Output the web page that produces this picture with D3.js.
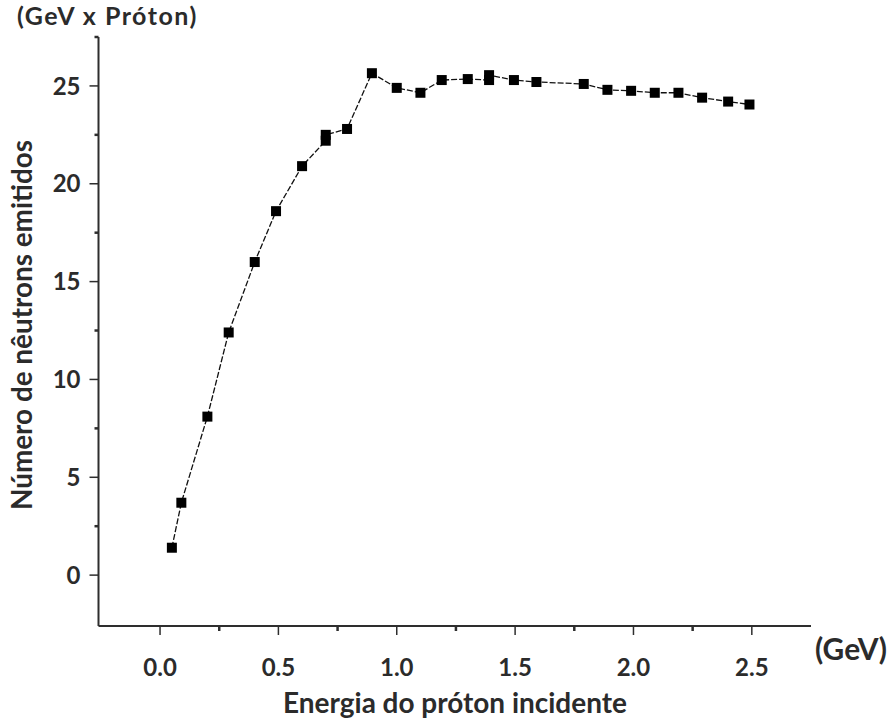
<!DOCTYPE html>
<html>
<head>
<meta charset="utf-8">
<script src="https://cdn.jsdelivr.net/npm/d3@7/dist/d3.min.js"></script>
<style>
  html, body { margin: 0; padding: 0; background: #fff; }
  svg { display: block; }
  text { font-family: Lato, "Open Sans", sans-serif; font-weight: bold; fill: #2b2b2b; }
</style>
</head>
<body>
<svg id="chart" width="892" height="726"></svg>
<script>
// Data
const energyGeV = [0.05, 0.09, 0.20, 0.29, 0.40, 0.49, 0.60, 0.70, 0.70, 0.79, 0.895, 1.00, 1.10, 1.19, 1.30, 1.39, 1.39, 1.495, 1.59, 1.79, 1.89, 1.99, 2.09, 2.19, 2.29, 2.40, 2.49];
const neutrons  = [1.4, 3.7, 8.1, 12.4, 16.0, 18.6, 20.9, 22.2, 22.5, 22.8, 25.65, 24.9, 24.65, 25.3, 25.35, 25.3, 25.55, 25.3, 25.2, 25.1, 24.8, 24.75, 24.65, 24.65, 24.4, 24.2, 24.05];
const xMajorTicks = [0, 0.5, 1.0, 1.5, 2.0, 2.5];
const xMinorTicks = [0.25, 0.75, 1.25, 1.75, 2.25];
const yMajorTicks = [0, 5, 10, 15, 20, 25];
const yMinorTicks = [2.5, 7.5, 12.5, 17.5, 22.5, 27.5];
const titleText = "(GeV x Próton)";
const xUnitText = "(GeV)";
const xLabel = "Energia do próton incidente";
const yLabel = "Número de nêutrons emitidos";

const svg = d3.select("#chart");
const x = d3.scaleLinear().domain([-0.26, 2.75]).range([98.5, 811]);
const y = d3.scaleLinear().domain([-2.6, 27.5]).range([626, 37]);
const axisColor = "#2e2e2e";

// fit a text element to a target width by adjusting font size
function fitWidth(sel, target) {
  const node = sel.node();
  const fs = parseFloat(sel.attr("font-size"));
  const w = node.getComputedTextLength();
  if (w > 0) sel.attr("font-size", (fs * target / w).toFixed(2));
  return sel;
}

// Y axis
const yAxisG = svg.append("g").attr("transform", `translate(${x(-0.26)},0)`);
yAxisG.append("line").attr("y1", y(-2.6)).attr("y2", y(27.5)).attr("stroke", axisColor).attr("stroke-width", 2);
yAxisG.selectAll("line.maj").data(yMajorTicks).join("line").attr("class","maj")
  .attr("x1", -9).attr("x2", 0).attr("y1", d => y(d)).attr("y2", d => y(d))
  .attr("stroke", axisColor).attr("stroke-width", 1.5);
yAxisG.selectAll("line.min").data(yMinorTicks).join("line").attr("class","min")
  .attr("x1", -4).attr("x2", 0).attr("y1", d => y(d)).attr("y2", d => y(d))
  .attr("stroke", axisColor).attr("stroke-width", 2.5);
yAxisG.selectAll("text").data(yMajorTicks).join("text")
  .attr("x", -18).attr("y", d => y(d)).attr("dy", "0.36em")
  .attr("text-anchor", "end").attr("font-size", 24).text(d => d);

// X axis
const xAxisG = svg.append("g").attr("transform", `translate(0,${y(-2.6)})`);
xAxisG.append("line").attr("x1", x(-0.26)).attr("x2", x(2.75)).attr("stroke", axisColor).attr("stroke-width", 2);
xAxisG.selectAll("line.maj").data(xMajorTicks).join("line").attr("class","maj")
  .attr("x1", d => x(d)).attr("x2", d => x(d)).attr("y1", 0).attr("y2", 9)
  .attr("stroke", axisColor).attr("stroke-width", 1.5);
xAxisG.selectAll("line.min").data(xMinorTicks).join("line").attr("class","min")
  .attr("x1", d => x(d)).attr("x2", d => x(d)).attr("y1", 0).attr("y2", 5)
  .attr("stroke", axisColor).attr("stroke-width", 2.5);
xAxisG.selectAll("text").data(xMajorTicks).join("text")
  .attr("x", d => x(d)).attr("y", 50)
  .attr("text-anchor", "middle").attr("font-size", 24).text(d => d.toFixed(1));

// Labels
svg.append("text").attr("x", 17).attr("y", 25).attr("font-size", 25).attr("letter-spacing", 1.5).text(titleText);
fitWidth(svg.append("text").attr("x", 815).attr("y", 660).attr("font-size", 22).text(xUnitText), 72);
fitWidth(svg.append("text").attr("x", 455).attr("y", 713).attr("text-anchor", "middle").attr("font-size", 22).text(xLabel), 344);
fitWidth(svg.append("text").attr("transform", "translate(32,325) rotate(-90)").attr("text-anchor", "middle").attr("font-size", 22).text(yLabel), 370);

// Line + points
const pts = energyGeV.map((e, i) => [e, neutrons[i]]);
svg.append("path").datum(pts)
  .attr("d", d3.line().x(d => x(d[0])).y(d => y(d[1])))
  .attr("fill", "none").attr("stroke", "#111").attr("stroke-width", 1.3).attr("stroke-dasharray", "6,2");
svg.selectAll("rect.pt").data(pts).join("rect").attr("class","pt")
  .attr("x", d => x(d[0]) - 5).attr("y", d => y(d[1]) - 5)
  .attr("width", 10).attr("height", 10).attr("fill", "#000");
</script>
</body>
</html>
